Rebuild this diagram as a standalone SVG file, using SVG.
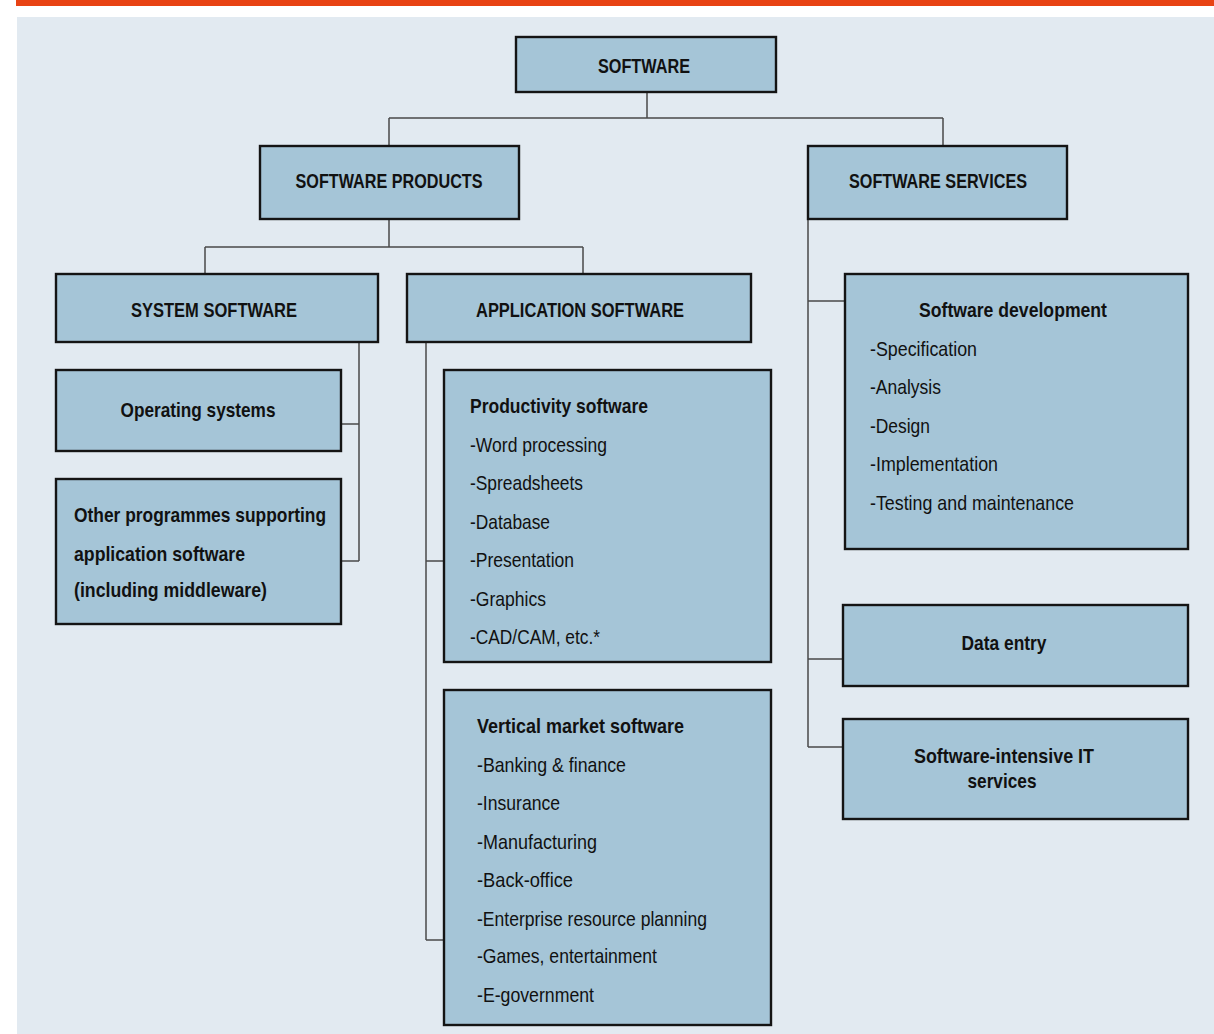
<svg xmlns="http://www.w3.org/2000/svg" width="1214" height="1034" viewBox="0 0 1214 1034">
<style>
.box{fill:#a5c5d7;stroke:#141414;stroke-width:2.4}
.c{fill:none;stroke:#4a4a4a;stroke-width:1.5}
text{font-family:"Liberation Sans",Arial,sans-serif;fill:#111;font-size:21px}
.h{font-weight:bold;text-anchor:middle}
.hl{font-weight:bold}
</style>
<rect x="0" y="0" width="1214" height="1034" fill="#ffffff"/>
<rect x="16" y="0" width="1198" height="6" fill="#e84314"/>
<rect x="17" y="17" width="1197" height="1017" fill="#e2eaf1"/>
<g id="connectors">
<path class="c" d="M647 92V118M389 118H943M389 118V146M943 118V146"/>
<path class="c" d="M389 220V247M205 247H583M205 247V274M583 247V274"/>
<path class="c" d="M359 343V561M341 424H359M341 561H359"/>
<path class="c" d="M426 343V940M426 561H444M426 940H444"/>
<path class="c" d="M808 220V747M808 301H845M808 659H843M808 747H843"/>
</g>
<g id="software"><rect class="box" x="516" y="37" width="260" height="55"/><text class="h" x="644" y="73" textLength="92" lengthAdjust="spacingAndGlyphs">SOFTWARE</text></g>
<g id="software-products"><rect class="box" x="260" y="146" width="259" height="73"/><text class="h" x="389" y="188" textLength="187" lengthAdjust="spacingAndGlyphs">SOFTWARE PRODUCTS</text></g>
<g id="software-services"><rect class="box" x="808" y="146" width="259" height="73"/><text class="h" x="938" y="188" textLength="178" lengthAdjust="spacingAndGlyphs">SOFTWARE SERVICES</text></g>
<g id="system-software"><rect class="box" x="56" y="274" width="322" height="68"/><text class="h" x="214" y="317" textLength="166" lengthAdjust="spacingAndGlyphs">SYSTEM SOFTWARE</text></g>
<g id="application-software"><rect class="box" x="407" y="274" width="344" height="68"/><text class="h" x="580" y="317" textLength="208" lengthAdjust="spacingAndGlyphs">APPLICATION SOFTWARE</text></g>
<g id="operating-systems"><rect class="box" x="56" y="370" width="285" height="81"/><text class="h" x="198" y="417" textLength="155" lengthAdjust="spacingAndGlyphs">Operating systems</text></g>
<g id="other-programmes"><rect class="box" x="56" y="479" width="285" height="145"/>
<text class="hl" x="74" y="522" textLength="252" lengthAdjust="spacingAndGlyphs">Other programmes supporting</text>
<text class="hl" x="74" y="561" textLength="171" lengthAdjust="spacingAndGlyphs">application software</text>
<text class="hl" x="74" y="597" textLength="193" lengthAdjust="spacingAndGlyphs">(including middleware)</text></g>
<g id="productivity-software"><rect class="box" x="444" y="370" width="327" height="292"/>
<text class="hl" x="470" y="413" textLength="178" lengthAdjust="spacingAndGlyphs">Productivity software</text>
<text x="470" y="452" textLength="137" lengthAdjust="spacingAndGlyphs">-Word processing</text>
<text x="470" y="490" textLength="113" lengthAdjust="spacingAndGlyphs">-Spreadsheets</text>
<text x="470" y="529" textLength="80" lengthAdjust="spacingAndGlyphs">-Database</text>
<text x="470" y="567" textLength="104" lengthAdjust="spacingAndGlyphs">-Presentation</text>
<text x="470" y="606" textLength="76" lengthAdjust="spacingAndGlyphs">-Graphics</text>
<text x="470" y="644" textLength="130" lengthAdjust="spacingAndGlyphs">-CAD/CAM, etc.*</text></g>
<g id="vertical-market-software"><rect class="box" x="444" y="690" width="327" height="335"/>
<text class="hl" x="477" y="733" textLength="207" lengthAdjust="spacingAndGlyphs">Vertical market software</text>
<text x="477" y="772" textLength="149" lengthAdjust="spacingAndGlyphs">-Banking &amp; finance</text>
<text x="477" y="810" textLength="83" lengthAdjust="spacingAndGlyphs">-Insurance</text>
<text x="477" y="849" textLength="120" lengthAdjust="spacingAndGlyphs">-Manufacturing</text>
<text x="477" y="887" textLength="96" lengthAdjust="spacingAndGlyphs">-Back-office</text>
<text x="477" y="926" textLength="230" lengthAdjust="spacingAndGlyphs">-Enterprise resource planning</text>
<text x="477" y="963" textLength="180" lengthAdjust="spacingAndGlyphs">-Games, entertainment</text>
<text x="477" y="1002" textLength="117" lengthAdjust="spacingAndGlyphs">-E-government</text></g>
<g id="software-development"><rect class="box" x="845" y="274" width="343" height="275"/>
<text class="h" x="1013" y="317" textLength="188" lengthAdjust="spacingAndGlyphs">Software development</text>
<text x="870" y="356" textLength="107" lengthAdjust="spacingAndGlyphs">-Specification</text>
<text x="870" y="394" textLength="71" lengthAdjust="spacingAndGlyphs">-Analysis</text>
<text x="870" y="433" textLength="60" lengthAdjust="spacingAndGlyphs">-Design</text>
<text x="870" y="471" textLength="128" lengthAdjust="spacingAndGlyphs">-Implementation</text>
<text x="870" y="510" textLength="204" lengthAdjust="spacingAndGlyphs">-Testing and maintenance</text></g>
<g id="data-entry"><rect class="box" x="843" y="605" width="345" height="81"/><text class="h" x="1004" y="650" textLength="85" lengthAdjust="spacingAndGlyphs">Data entry</text></g>
<g id="software-intensive-it-services"><rect class="box" x="843" y="719" width="345" height="100"/>
<text class="h" x="1004" y="763" textLength="180" lengthAdjust="spacingAndGlyphs">Software-intensive IT</text>
<text class="h" x="1002" y="788" textLength="69" lengthAdjust="spacingAndGlyphs">services</text></g>
</svg>
